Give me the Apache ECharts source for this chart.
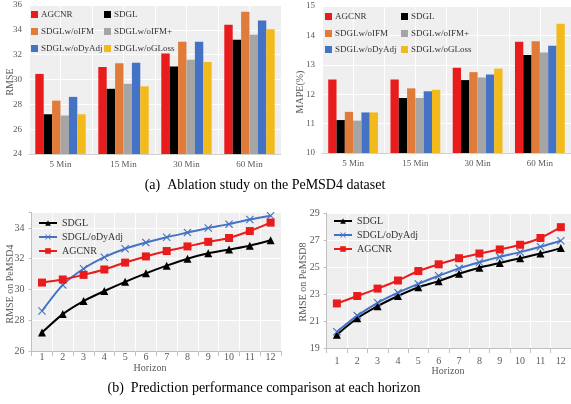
<!DOCTYPE html>
<html><head><meta charset="utf-8">
<script src="https://cdn.jsdelivr.net/npm/echarts@6/dist/echarts.min.js"></script>
<style>html,body{margin:0;padding:0;background:#fff;} .c{position:absolute;left:0;top:0;width:571px;height:404px;}</style>
</head><body>
<div id="c1" class="c"></div><div id="c2" class="c"></div><div id="c3" class="c"></div><div id="c4" class="c"></div>
<script>
// ---- data ----
const barCategories = ['5 Min', '15 Min', '30 Min', '60 Min'];
const barNames = ['AGCNR', 'SDGL', 'SDGLw/oIFM', 'SDGLw/oIFM+', 'SDGLw/oDyAdj', 'SDGLw/oGLoss'];
// RMSE (PeMSD4 ablation)
const rmseAGCNR   = [30.45, 31.0, 32.1, 34.4];
const rmseSDGL    = [27.2, 29.25, 31.05, 33.2];
const rmseNoIFM   = [28.3, 31.3, 33.05, 35.45];
const rmseNoIFMp  = [27.1, 29.65, 31.6, 33.6];
const rmseNoDyAdj = [28.6, 31.35, 33.05, 34.75];
const rmseNoGLoss = [27.2, 29.45, 31.4, 34.05];
// MAPE (%)
const mapeAGCNR   = [12.5, 12.5, 12.9, 13.78];
const mapeSDGL    = [11.12, 11.87, 12.48, 13.33];
const mapeNoIFM   = [11.4, 12.2, 12.75, 13.8];
const mapeNoIFMp  = [11.1, 11.87, 12.57, 13.42];
const mapeNoDyAdj = [11.38, 12.1, 12.67, 13.65];
const mapeNoGLoss = [11.38, 12.15, 12.87, 14.4];
// Horizon comparison
const horizons = ['1','2','3','4','5','6','7','8','9','10','11','12'];
const lineNames = ['SDGL', 'SDGL/oDyAdj', 'AGCNR'];
const d4SDGL   = [27.2, 28.4, 29.25, 29.9, 30.5, 31.05, 31.55, 32.0, 32.35, 32.6, 32.85, 33.2];
const d4DyAdj  = [28.6, 30.3, 31.35, 32.1, 32.65, 33.05, 33.4, 33.7, 34.0, 34.25, 34.55, 34.8];
const d4AGCNR  = [30.45, 30.65, 30.95, 31.3, 31.75, 32.15, 32.5, 32.8, 33.1, 33.35, 33.8, 34.35];
const d8SDGL   = [19.98, 21.2, 22.1, 22.85, 23.5, 23.95, 24.5, 24.95, 25.3, 25.65, 26.0, 26.4];
const d8DyAdj  = [20.2, 21.4, 22.35, 23.1, 23.75, 24.35, 24.9, 25.35, 25.75, 26.1, 26.5, 26.95];
const d8AGCNR  = [22.3, 22.85, 23.4, 24.0, 24.7, 25.2, 25.65, 26.0, 26.3, 26.65, 27.15, 27.95];
// captions
const captionA = '(a)  Ablation study on the PeMSD4 dataset';
const captionB = '(b)  Prediction performance comparison at each horizon';

// ---- style ----
const SERIF = 'Liberation Serif';
const LABEL = '#595959';
const BG = '#efefef';
const barColors = ['#e81c1c', '#000000', '#e07b39', '#a5a5a5', '#4472c4', '#f2bb1b'];
const lineColors = ['#000000', '#4472c4', '#e81c1c'];
const xSym = 'path://M0,1L1,0L5,4L9,0L10,1L6,5L10,9L9,10L5,6L1,10L0,9L4,5Z';

function vText(x, y, text) {
  return { type: 'text', x: x, y: y, rotation: Math.PI / 2,
    style: { text: text, fill: LABEL, font: '10px ' + SERIF, textAlign: 'center', textVerticalAlign: 'middle' } };
}
function hText(x, y, text, size, color) {
  return { type: 'text', x: x, y: y,
    style: { text: text, fill: color || LABEL, font: (size || 10) + 'px ' + SERIF, textAlign: 'center', textVerticalAlign: 'middle' } };
}

function barOption(grid, yMin, yMax, values, legendPos, extraGraphic) {
  const legends = barNames.map((n, i) => ({
    data: [n], left: legendPos[i][0], top: legendPos[i][1],
    icon: 'rect', itemWidth: 7, itemHeight: 7, itemGap: 0, padding: 0,
    textStyle: { fontFamily: SERIF, fontSize: 9, color: '#333', padding: [0, 0, 0, -2] }
  }));
  return {
    animation: false,
    grid: [Object.assign({ show: true, backgroundColor: BG, borderWidth: 0 }, grid)],
    legend: legends,
    xAxis: [{
      type: 'category', data: barCategories,
      axisLine: { lineStyle: { color: '#d0d0d0' } }, axisTick: { show: false },
      axisLabel: { fontFamily: SERIF, fontSize: 9, color: LABEL, margin: 6 },
      splitLine: { show: true, lineStyle: { color: '#ffffff', width: 1 } }
    }, {
      type: 'value', min: 0, max: 8, interval: 1, position: 'bottom',
      axisLine: { show: false }, axisTick: { show: false }, axisLabel: { show: false },
      splitLine: { show: true, lineStyle: { color: '#ffffff', width: 1 } }
    }],
    yAxis: {
      type: 'value', min: yMin, max: yMax, interval: yMax - yMin > 6 ? 2 : 1,
      axisLine: { show: false }, axisTick: { show: false },
      axisLabel: { fontFamily: SERIF, fontSize: 9, color: LABEL, margin: 7 },
      splitLine: { show: true, lineStyle: { color: '#ffffff' } }
    },
    series: barNames.map((n, i) => ({
      name: n, type: 'bar', data: values[i], xAxisIndex: 0,
      itemStyle: { color: barColors[i] }, barGap: '0%', barCategoryGap: '20%'
    })),
    graphic: extraGraphic
  };
}

function lineOption(grid, yMin, yMax, values, legendPos, labelMargin, extraGraphic) {
  const syms = ['triangle', xSym, 'rect'];
  const symSizes = [8, 8, 8];
  return {
    animation: false,
    grid: [Object.assign({ show: true, backgroundColor: BG, borderWidth: 0 }, grid)],
    legend: {
      data: lineNames, orient: 'vertical', left: legendPos[0], top: legendPos[1],
      itemWidth: 18, itemHeight: 7, itemGap: 4, padding: 0,
      textStyle: { fontFamily: SERIF, fontSize: 10, color: '#333' }
    },
    xAxis: {
      type: 'category', data: horizons, boundaryGap: true,
      axisLine: { lineStyle: { color: '#bfbfbf' } },
      axisTick: { show: true, lineStyle: { color: '#bfbfbf' } },
      axisLabel: { fontFamily: SERIF, fontSize: 10, color: LABEL, margin: labelMargin },
      splitLine: { show: true, lineStyle: { color: '#ffffff' } }
    },
    yAxis: {
      type: 'value', min: yMin, max: yMax, interval: 2,
      axisLine: { show: true, lineStyle: { color: '#bfbfbf' } },
      axisTick: { show: true, length: 3, lineStyle: { color: '#bfbfbf' } },
      axisLabel: { fontFamily: SERIF, fontSize: 10, color: LABEL, margin: 7,
        formatter: v => ((v - yMin) % 2 === 0 ? String(v) : '') },
      splitLine: { show: true, lineStyle: { color: '#ffffff' } }
    },
    series: lineNames.map((n, i) => ({
      name: n, type: 'line', data: values[i], smooth: 0.25,
      symbol: syms[i], symbolSize: symSizes[i],
      lineStyle: { color: lineColors[i], width: 2 },
      itemStyle: { color: lineColors[i] }
    })),
    graphic: extraGraphic
  };
}

const c1 = echarts.init(document.getElementById('c1'));
c1.setOption(barOption(
  { left: 29, top: 5, width: 252, height: 149 }, 24, 36,
  [rmseAGCNR, rmseSDGL, rmseNoIFM, rmseNoIFMp, rmseNoDyAdj, rmseNoGLoss],
  [[31, 10], [104, 10], [31, 27], [104, 27], [31, 44], [104, 44]],
  [vText(10, 82, 'RMSE')]
));

const c2 = echarts.init(document.getElementById('c2'));
c2.setOption(barOption(
  { left: 322, top: 6, width: 252, height: 147 }, 10, 15,
  [mapeAGCNR, mapeSDGL, mapeNoIFM, mapeNoIFMp, mapeNoDyAdj, mapeNoGLoss],
  [[325, 12], [401, 12], [325, 29], [401, 29], [325, 45], [401, 45]],
  [vText(300, 92, 'MAPE(%)')]
));

const c3 = echarts.init(document.getElementById('c3'));
c3.setOption(lineOption(
  { left: 31.6, top: 212.6, width: 249.4, height: 138.4 }, 26, 35,
  [d4SDGL, d4DyAdj, d4AGCNR], [38, 218], 1,
  [vText(10, 284, 'RMSE on PeMSD4'), hText(150, 368, 'Horizon')]
));

const c4 = echarts.init(document.getElementById('c4'));
c4.setOption(lineOption(
  { left: 326.7, top: 213, width: 246.6, height: 135 }, 19, 29,
  [d8SDGL, d8DyAdj, d8AGCNR], [333, 216], 8,
  [vText(303, 282, 'RMSE on PeMSD8'), hText(448, 371, 'Horizon'),
   hText(265, 185, captionA, 14, '#000'), hText(264, 388, captionB, 14, '#000')]
));
</script>
</body></html>
